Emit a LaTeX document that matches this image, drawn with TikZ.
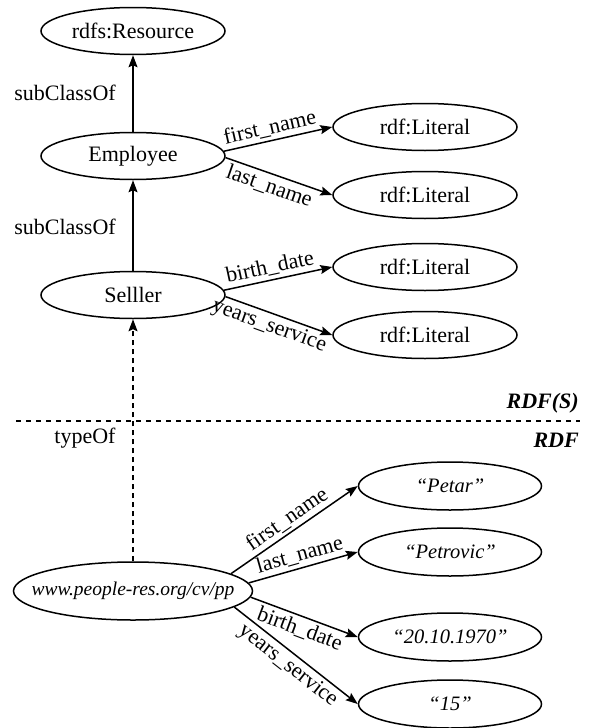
\documentclass[tikz,border=0pt]{standalone}
\usepackage{fontspec}
\setmainfont{Liberation Serif}
\usetikzlibrary{arrows.meta,shapes.geometric}

\newcommand{\ctext}[1]{\makebox[0pt][c]{#1}}

\begin{document}
\begin{tikzpicture}[x=1pt,y=-1pt,
  txt/.style={font=\fontsize{22}{25}\selectfont},
  cls/.style={ellipse, draw, line width=1.5pt, inner sep=0pt, txt,
              minimum width=184pt, minimum height=47pt},
  lit/.style={cls, font=\fontsize{20.5}{24}\selectfont\itshape,
              minimum width=183pt, minimum height=48pt},
  arr/.style={line width=1.5pt, -{Stealth[length=12pt,width=9pt,inset=2pt]}},
  dasharr/.style={arr, dash pattern=on 5pt off 4pt},
  sepline/.style={line width=1.5pt, dash pattern=on 5pt off 5pt},
  elabel/.style={txt, sloped, midway, inner sep=3pt},
  layer/.style={font=\fontsize{22}{25}\selectfont\bfseries\itshape, anchor=east, inner sep=0pt}
]
\useasboundingbox (0,0) rectangle (591,728);

% schema level
\node[cls] (res) at (133,31) {\ctext{rdfs:Resource}};
\node[cls] (emp) at (133,156) {\ctext{Employee}};
\node[cls] (sel) at (133,295) {\ctext{Selller}};
\node[cls] (l1) at (425,127) {\ctext{rdf:Literal}};
\node[cls] (l2) at (425,195) {\ctext{rdf:Literal}};
\node[cls] (l3) at (425,267) {\ctext{rdf:Literal}};
\node[cls] (l4) at (425,335) {\ctext{rdf:Literal}};

\node[txt] (sc1) at (65,93) {subClassOf};
\node[txt] (sc2) at (65,227) {subClassOf};

\draw[arr] (emp.north) -- (res.south);
\draw[arr] (sel.north) -- (emp.south);
\draw[arr] (emp.3) -- (l1.west) node[elabel, above, pos=0.45] {first\_name};
\draw[arr] (emp.-1) -- (l2.west) node[elabel, below, pos=0.45] {last\_name};
\draw[arr] (sel.3) -- (l3.west) node[elabel, above, pos=0.45] {birth\_date};
\draw[arr] (sel.-1) -- (l4.west) node[elabel, below, pos=0.45] {years\_service};

% layer separator
\coordinate (sepL) at (16,421);
\coordinate (sepR) at (580,421);
\draw[sepline] (sepL) -- (sepR);
\node[layer] (rdfs) at (579,403) {RDF(S)};
\node[layer] (rdf) at (579,440) {RDF};

% instance level
\node[lit, font=\fontsize{19.5}{23}\selectfont\itshape,
      minimum width=239pt, minimum height=58pt] (pp) at (133,591) {\ctext{www.people-res.org/cv/pp}};
\node[lit] (v1) at (450,486) {\ctext{“Petar”}};
\node[lit] (v2) at (450,552) {\ctext{“Petrovic”}};
\node[lit] (v3) at (450,637) {\ctext{“20.10.1970”}};
\node[lit] (v4) at (450,704) {\ctext{“15”}};

\node[txt] (tof) at (85,438) {typeOf};
\draw[dasharr] (pp.north) -- (sel.south);

\draw[arr] (pp.10.5) -- (v1.west) node[elabel, above] {first\_name};
\draw[arr] (pp.4.5) -- (v2.west) node[elabel, above] {last\_name};
\draw[arr] (pp.-3.5) -- (v3.west) node[elabel, below] {birth\_date};
\draw[arr] (pp.-9.4) -- (v4.west) node[elabel, below] {years\_service};
\end{tikzpicture}
\end{document}
